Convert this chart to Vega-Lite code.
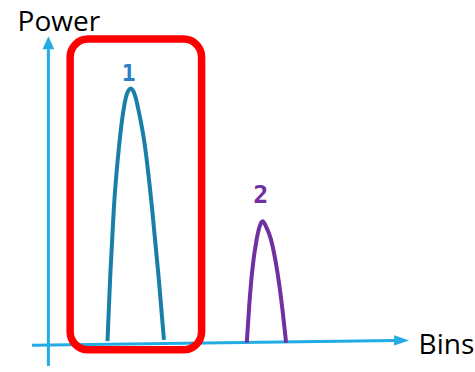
{
  "$schema": "https://vega.github.io/schema/vega-lite/v6.json",
  "width": 475,
  "height": 372,
  "padding": 0,
  "autosize": {"type": "fit", "contains": "padding"},
  "config": {"view": {"stroke": null}},
  "datasets": {
    "xAxis": [{"bin": -16, "power": -2}, {"bin": 348, "power": 3}],
    "yAxis": [{"bin": 0.5, "power": -23}, {"bin": 0.5, "power": 299}],
    "arrows": [
      {"bin": 0.5, "power": 305.5, "dir": "up"},
      {"bin": 354.5, "power": 3, "dir": "right"}
    ],
    "peaks": [
      {"peak": "1", "bin": 59.7, "power": 2.3},
      {"peak": "1", "bin": 62.5, "power": 69},
      {"peak": "1", "bin": 66, "power": 136},
      {"peak": "1", "bin": 71.5, "power": 202.3},
      {"peak": "1", "bin": 75.6, "power": 236},
      {"peak": "1", "bin": 78.8, "power": 252.3},
      {"peak": "1", "bin": 83, "power": 259},
      {"peak": "1", "bin": 87.2, "power": 252.3},
      {"peak": "1", "bin": 91, "power": 236},
      {"peak": "1", "bin": 97, "power": 202.3},
      {"peak": "1", "bin": 104.5, "power": 136},
      {"peak": "1", "bin": 110.8, "power": 69},
      {"peak": "1", "bin": 116.3, "power": 3.5},
      {"peak": "2", "bin": 199.3, "power": 0.7},
      {"peak": "2", "bin": 201.8, "power": 39},
      {"peak": "2", "bin": 204.6, "power": 72.3},
      {"peak": "2", "bin": 209.2, "power": 105.7},
      {"peak": "2", "bin": 212.2, "power": 119},
      {"peak": "2", "bin": 215.3, "power": 124},
      {"peak": "2", "bin": 218.5, "power": 119},
      {"peak": "2", "bin": 223.5, "power": 105.7},
      {"peak": "2", "bin": 230, "power": 72.3},
      {"peak": "2", "bin": 234.5, "power": 39},
      {"peak": "2", "bin": 238.7, "power": 0.7}
    ],
    "box": [{"bin": 22.3, "bin2": 154, "power": 309.3, "power2": -6.5}],
    "label1": [{"label": "1", "bin": 81, "power": 267}],
    "label2": [{"label": "2", "bin": 213.3, "power": 143}],
    "powerTitle": [{"text": "Power", "bin": 11, "power": 317.3}],
    "binsTitle": [{"text": "Bins", "bin": 371.5, "power": -11}]
  },
  "layer": [
    {
      "data": {"name": "xAxis"},
      "mark": {"type": "line", "color": "#22ace3", "strokeWidth": 3},
      "encoding": {
        "x": {"field": "bin", "type": "quantitative", "scale": {"domain": [-48, 427], "zero": false, "nice": false}, "axis": null},
        "y": {"field": "power", "type": "quantitative", "scale": {"domain": [-23, 349], "zero": false, "nice": false}, "axis": null}
      }
    },
    {
      "data": {"name": "yAxis"},
      "mark": {"type": "line", "color": "#22ace3", "strokeWidth": 3},
      "encoding": {
        "x": {"field": "bin", "type": "quantitative"},
        "y": {"field": "power", "type": "quantitative"}
      }
    },
    {
      "data": {"name": "arrows"},
      "mark": {"type": "point", "filled": true, "color": "#22ace3", "opacity": 1},
      "encoding": {
        "x": {"field": "bin", "type": "quantitative"},
        "y": {"field": "power", "type": "quantitative"},
        "shape": {
          "field": "dir",
          "type": "nominal",
          "scale": {"domain": ["up", "right"], "range": ["M-0.9,1L0,-1L0.9,1Z", "M-1,-0.68L1,0L-1,0.68Z"]},
          "legend": null
        },
        "size": {
          "field": "dir",
          "type": "nominal",
          "scale": {"domain": ["up", "right"], "range": [169, 225]},
          "legend": null
        }
      }
    },
    {
      "data": {"name": "peaks"},
      "mark": {"type": "line", "strokeWidth": 4, "interpolate": "monotone", "strokeCap": "butt"},
      "encoding": {
        "x": {"field": "bin", "type": "quantitative"},
        "y": {"field": "power", "type": "quantitative"},
        "color": {
          "field": "peak",
          "type": "nominal",
          "scale": {"domain": ["1", "2"], "range": ["#1a7fa7", "#7030a0"]},
          "legend": null
        }
      }
    },
    {
      "data": {"name": "box"},
      "mark": {"type": "rect", "fill": null, "stroke": "#ff0000", "strokeWidth": 7.5, "cornerRadius": 18},
      "encoding": {
        "x": {"field": "bin", "type": "quantitative"},
        "x2": {"field": "bin2"},
        "y": {"field": "power", "type": "quantitative"},
        "y2": {"field": "power2"}
      }
    },
    {
      "data": {"name": "label1"},
      "mark": {"type": "text", "font": "DejaVu Sans Mono", "fontWeight": "bold", "fontSize": 23, "color": "#2e7fc6", "align": "center", "baseline": "alphabetic"},
      "encoding": {
        "x": {"field": "bin", "type": "quantitative"},
        "y": {"field": "power", "type": "quantitative"},
        "text": {"field": "label"}
      }
    },
    {
      "data": {"name": "label2"},
      "mark": {"type": "text", "font": "DejaVu Sans Mono", "fontWeight": "bold", "fontSize": 25, "color": "#7030a0", "align": "center", "baseline": "alphabetic"},
      "encoding": {
        "x": {"field": "bin", "type": "quantitative"},
        "y": {"field": "power", "type": "quantitative"},
        "text": {"field": "label"}
      }
    },
    {
      "data": {"name": "powerTitle"},
      "mark": {"type": "text", "font": "Open Sans", "fontSize": 28, "color": "#000000", "align": "center", "baseline": "alphabetic"},
      "encoding": {
        "x": {"field": "bin", "type": "quantitative"},
        "y": {"field": "power", "type": "quantitative"},
        "text": {"field": "text"}
      }
    },
    {
      "data": {"name": "binsTitle"},
      "mark": {"type": "text", "font": "Open Sans", "fontSize": 28, "color": "#000000", "align": "left", "baseline": "alphabetic"},
      "encoding": {
        "x": {"field": "bin", "type": "quantitative"},
        "y": {"field": "power", "type": "quantitative"},
        "text": {"field": "text"}
      }
    }
  ]
}
